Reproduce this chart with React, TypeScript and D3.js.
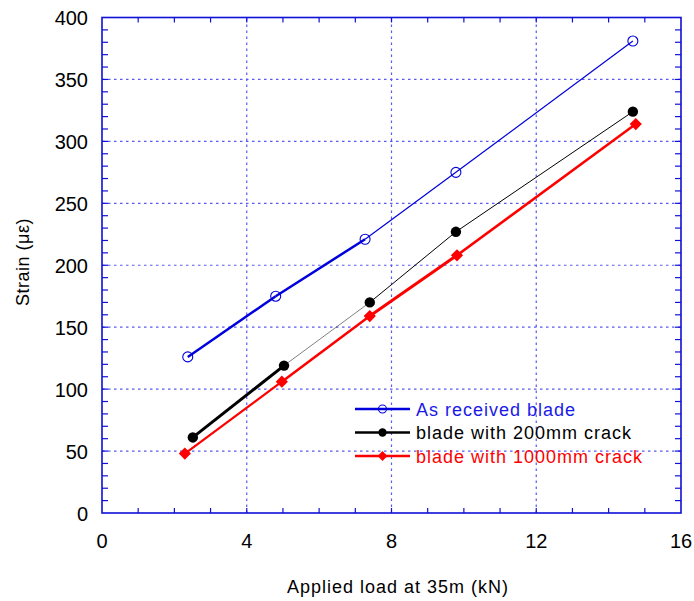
import React, { useEffect, useRef } from "react";
import * as d3 from "d3";

// series
const loadReceived = [2.37, 4.8, 7.27, 9.78, 14.67];
const strainReceived = [126, 175, 221, 275, 381];
const loadCrack200 = [2.51, 5.03, 7.4, 9.78, 14.67];
const strainCrack200 = [61, 119, 170, 227, 324];
const loadCrack1000 = [2.29, 4.97, 7.4, 9.81, 14.75];
const strainCrack1000 = [48, 106, 159, 208, 314];

const seriesNames = ["As received blade", "blade with 200mm crack", "blade with 1000mm crack"];
const xTicks = [0, 4, 8, 12, 16];
const yTicks = [0, 50, 100, 150, 200, 250, 300, 350, 400];

// stroke widths of each segment (original plot drew them unevenly)
const segWidths = [
  [2.5, 2.5, 1.2, 1.2],
  [3, 0.5, 1, 1],
  [2.2, 2.5, 3, 2.5],
];

export default function App() {
  const svgRef = useRef<SVGSVGElement>(null);

  useEffect(() => {
    const width = 694;
    const height = 601;
    const m = { top: 17.5, right: 13, bottom: 88, left: 102 };

    const svg = d3.select(svgRef.current);
    svg.selectAll("*").remove();
    svg.attr("width", width).attr("height", height);

    const x = d3.scaleLinear().domain([0, 16]).range([m.left, width - m.right]);
    const y = d3.scaleLinear().domain([0, 400]).range([height - m.bottom, m.top]);

    const axisBlue = "#1010d8";
    const gridBlue = "#5a5aee";
    const font = "Arial, 'Liberation Sans', sans-serif";

    // grid
    const grid = svg.append("g");
    xTicks.slice(1, -1).forEach(t => {
      grid.append("line")
        .attr("x1", x(t)).attr("x2", x(t))
        .attr("y1", y(0)).attr("y2", y(400))
        .attr("stroke", gridBlue).attr("stroke-width", 1.2)
        .attr("stroke-dasharray", "2.5,3.5");
    });
    yTicks.slice(1, -1).forEach(t => {
      grid.append("line")
        .attr("x1", x(0)).attr("x2", x(16))
        .attr("y1", y(t)).attr("y2", y(t))
        .attr("stroke", gridBlue).attr("stroke-width", 1.2)
        .attr("stroke-dasharray", "2.5,3.5");
    });

    // minor ticks, all four sides, pointing inward
    const ticks = svg.append("g").attr("stroke", axisBlue).attr("stroke-width", 1.2);
    d3.range(1, 16).forEach(t => {
      ticks.append("line").attr("x1", x(t)).attr("x2", x(t)).attr("y1", y(0)).attr("y2", y(0) - 5);
      ticks.append("line").attr("x1", x(t)).attr("x2", x(t)).attr("y1", y(400)).attr("y2", y(400) + 5);
    });
    d3.range(10, 400, 10).forEach(t => {
      ticks.append("line").attr("x1", x(0)).attr("x2", x(0) + 6).attr("y1", y(t)).attr("y2", y(t));
      ticks.append("line").attr("x1", x(16)).attr("x2", x(16) - 6).attr("y1", y(t)).attr("y2", y(t));
    });

    // frame
    svg.append("rect")
      .attr("x", x(0)).attr("y", y(400))
      .attr("width", x(16) - x(0)).attr("height", y(0) - y(400))
      .attr("fill", "none").attr("stroke", axisBlue).attr("stroke-width", 1.6);

    // tick labels
    svg.append("g").selectAll("text").data(xTicks).enter().append("text")
      .attr("x", d => x(d)).attr("y", y(0) + 35)
      .attr("text-anchor", "middle")
      .attr("font-family", font).attr("font-size", 20)
      .text(d => d);
    svg.append("g").selectAll("text").data(yTicks).enter().append("text")
      .attr("x", x(0) - 14).attr("y", d => y(d) + 7.5)
      .attr("text-anchor", "end")
      .attr("font-family", font).attr("font-size", 20)
      .text(d => d);

    // axis titles
    svg.append("text")
      .attr("x", 398).attr("y", 593)
      .attr("text-anchor", "middle")
      .attr("font-family", font).attr("font-size", 18)
      .attr("letter-spacing", 1)
      .text("Applied load at 35m (kN)");
    svg.append("text")
      .attr("transform", `translate(29, 262) rotate(-90)`)
      .attr("text-anchor", "middle")
      .attr("font-family", font).attr("font-size", 18)
      .attr("letter-spacing", 0.5)
      .text("Strain (\u03bc\u03b5)");

    const series = [
      { xs: loadReceived, ys: strainReceived, color: "#0000dd", marker: "open" },
      { xs: loadCrack200, ys: strainCrack200, color: "#000000", marker: "dot" },
      { xs: loadCrack1000, ys: strainCrack1000, color: "#ff0000", marker: "diamond" },
    ];

    const drawMarker = (g: any, kind: string, cx: number, cy: number, color: string, k = 1) => {
      if (kind === "open") {
        g.append("circle").attr("cx", cx).attr("cy", cy).attr("r", 5 * k)
          .attr("fill", "none").attr("stroke", color).attr("stroke-width", 1.1);
      } else if (kind === "dot") {
        g.append("circle").attr("cx", cx).attr("cy", cy).attr("r", 5.2 * k).attr("fill", color);
      } else {
        g.append("path")
          .attr("d", d3.symbol().type(d3.symbolDiamond2).size(95 * k * k)())
          .attr("transform", `translate(${cx},${cy})`)
          .attr("fill", color);
      }
    };

    series.forEach((s, si) => {
      const g = svg.append("g");
      d3.pairs(d3.zip(s.xs, s.ys)).forEach(([a, b], i) => {
        g.append("line")
          .attr("x1", x(a[0])).attr("y1", y(a[1]))
          .attr("x2", x(b[0])).attr("y2", y(b[1]))
          .attr("stroke", s.color).attr("stroke-width", segWidths[si][i]);
      });
      s.xs.forEach((v, i) => drawMarker(g, s.marker, x(v), y(s.ys[i]), s.color));
    });

    // legend
    const lg = svg.append("g");
    series.forEach((s, i) => {
      const ly = 409 + i * 23.5;
      lg.append("line")
        .attr("x1", 355).attr("x2", 410).attr("y1", ly).attr("y2", ly)
        .attr("stroke", s.color).attr("stroke-width", 2.5);
      drawMarker(lg, s.marker, 382.5, ly, s.color, 0.8);
      lg.append("text")
        .attr("x", 416).attr("y", ly + 6.5)
        .attr("font-family", font).attr("font-size", 18)
        .attr("letter-spacing", 1)
        .attr("fill", i === 0 ? "#1a1ae6" : s.color)
        .text(seriesNames[i]);
    });
  }, []);

  return <svg ref={svgRef} style={{ position: "absolute", left: 0, top: 0 }}></svg>;
}
